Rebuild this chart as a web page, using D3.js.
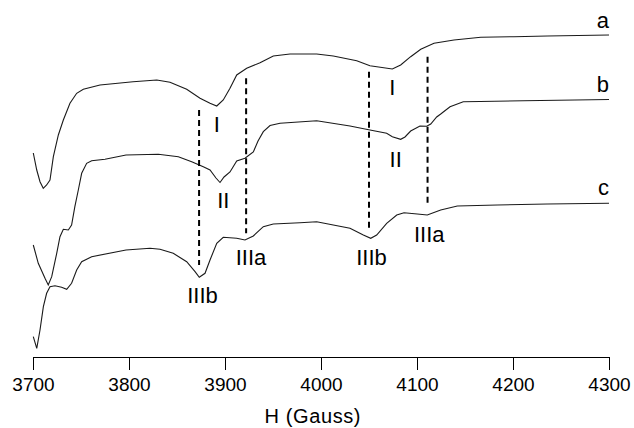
<!DOCTYPE html>
<html>
<head>
<meta charset="utf-8">
<script src="https://cdn.jsdelivr.net/npm/d3@7"></script>
<style>
    body { margin: 0; background: #fff; }
    #chart text { font-family: "Liberation Sans", Arial, sans-serif; fill: #000; }
</style>
</head>
<body>
<div id="chart"></div>
<script>
// field in Gauss, signal in arbitrary units (offset per spectrum)
const traceA = [
    [3700.3, 204], [3703.9, 187], [3707.3, 175.3], [3710.7, 168.7], [3714.2, 172], [3717.7, 177],
    [3721.2, 200.3], [3726.4, 222], [3731.6, 237], [3738.5, 253.7], [3745.5, 263.7], [3752.4, 267.7],
    [3769.8, 272], [3804.2, 275.3], [3828.9, 277], [3842.7, 274.7], [3860.1, 267.7], [3874, 258.7],
    [3884.4, 253.7], [3891.4, 251], [3898.2, 257], [3905.2, 268.7], [3912.2, 282], [3922.6, 288.7],
    [3936.5, 294.3], [3950.3, 301], [3967.7, 303], [3995.5, 303], [4012.8, 301], [4037.2, 296.3],
    [4051, 291.3], [4074.3, 288], [4083, 292], [4093.4, 300.3], [4103.9, 307.7], [4117.7, 313.7],
    [4138.5, 317], [4166.4, 319.7], [4201, 320.3], [4235.7, 321], [4300, 322]
];

const traceB = [
    [3700.3, 112], [3705.5, 93.7], [3712.5, 78.7], [3715.9, 72], [3719.5, 80.3], [3724.7, 103.7],
    [3728.1, 120.3], [3731.6, 127.7], [3736.8, 127], [3740.2, 132], [3743.6, 150.3], [3747.2, 167],
    [3750.7, 183.7], [3755.9, 193.7], [3761.1, 196.3], [3775, 197.7], [3796.9, 202], [3830.5, 202.7],
    [3851.4, 200.3], [3865.3, 195.3], [3877.4, 190.3], [3884.4, 187], [3890.6, 179], [3894.8, 174.5],
    [3899, 180], [3905.2, 185], [3912.2, 196], [3920.8, 198.7], [3929.5, 205], [3934.4, 216],
    [3939.9, 225.3], [3946.9, 231.5], [3957.3, 233.7], [3995.5, 236.3], [4030.2, 231], [4051, 227],
    [4068.4, 223.7], [4074.3, 220.3], [4083, 217.7], [4087.5, 220], [4093.4, 226], [4103.1, 231],
    [4110.1, 230.7], [4114.3, 233], [4120.5, 240], [4124.7, 243], [4134.4, 250.3], [4148.2, 255.3],
    [4165.6, 255.5], [4210.7, 256.3], [4300, 257.5]
];

const traceC = [
    [3700.3, 20.3], [3703.9, 8.7], [3707.3, 27], [3710.8, 50.3], [3714.2, 63.7], [3717.7, 70.3],
    [3722.9, 71.3], [3729.8, 69.7], [3735.1, 67.7], [3740.2, 73.7], [3745.5, 87], [3750.7, 95.3],
    [3761.1, 100.3], [3796.9, 107], [3821.9, 108.7], [3832.3, 107.7], [3846.1, 103.7], [3860.1, 95.3],
    [3868.8, 85.3], [3873.2, 79.7], [3879.2, 83.7], [3884.4, 97], [3891.4, 113.7], [3898.2, 119.7],
    [3912.2, 118.7], [3920.8, 117], [3929.5, 121], [3939.9, 130.3], [3950.3, 133], [3978.1, 134.3],
    [3995.5, 135.3], [4012.8, 132], [4030.2, 128.7], [4044.1, 122], [4051.8, 118.7], [4058, 122],
    [4068.4, 133.7], [4078.9, 142], [4086.5, 144.3], [4100.3, 143], [4110.7, 142], [4124.7, 147],
    [4142, 151], [4183.6, 152], [4235.7, 153], [4300, 153.7]
];

const traceNames = ["a", "b", "c"];
const traceNameY = [329, 265, 162];

// dashed markers: field, top, bottom
const markerField = [3873, 3922, 4050, 4111];
const markerTop = [247, 278.7, 285.3, 300.3];
const markerBottom = [92, 123.7, 127, 150.3];

const peakLabels = [
    { text: "I", field: 3891.4, y: 225.3 },
    { text: "I", field: 4074.3, y: 262 },
    { text: "II", field: 3898.2, y: 148.7 },
    { text: "II", field: 4077.8, y: 190 },
    { text: "IIIb", field: 3876.6, y: 53.7 },
    { text: "IIIa", field: 3927.1, y: 92 },
    { text: "IIIb", field: 4052.6, y: 92 },
    { text: "IIIa", field: 4112.8, y: 115.3 }
];

const xTicks = [3700, 3800, 3900, 4000, 4100, 4200, 4300];

const width = 634, height = 428;
const margin = { top: 17, right: 25, bottom: 71, left: 33 };

const svg = d3.select("#chart").append("svg")
    .attr("width", width)
    .attr("height", height);

const x = d3.scaleLinear().domain([3700, 4300]).range([margin.left, width - margin.right]);
const y = d3.scaleLinear().domain([0, 340]).range([height - margin.bottom, margin.top]);

const line = d3.line()
    .x(d => x(d[0]))
    .y(d => y(d[1]));

svg.selectAll("path.trace")
    .data([traceA, traceB, traceC])
    .enter().append("path")
    .attr("class", "trace")
    .attr("fill", "none")
    .attr("stroke", "#1a1a1a")
    .attr("stroke-width", 1.1)
    .attr("d", line);

svg.selectAll("line.marker")
    .data(markerField)
    .enter().append("line")
    .attr("class", "marker")
    .attr("x1", d => x(d))
    .attr("x2", d => x(d))
    .attr("y1", (d, i) => y(markerTop[i]))
    .attr("y2", (d, i) => y(markerBottom[i]))
    .attr("stroke", "#000")
    .attr("stroke-width", 2)
    .attr("stroke-dasharray", "6,4");

svg.selectAll("text.peak")
    .data(peakLabels)
    .enter().append("text")
    .attr("class", "peak")
    .attr("x", d => x(d.field))
    .attr("y", d => y(d.y))
    .attr("text-anchor", "middle")
    .style("font-size", "22px")
    .text(d => d.text);

svg.selectAll("text.name")
    .data(traceNames)
    .enter().append("text")
    .attr("class", "name")
    .attr("x", x(4300))
    .attr("y", (d, i) => y(traceNameY[i]))
    .attr("text-anchor", "end")
    .style("font-size", "22px")
    .text(d => d);

const xAxis = svg.append("g")
    .attr("transform", "translate(0," + y(0) + ")")
    .call(d3.axisBottom(x).tickValues(xTicks).tickFormat(d3.format("d")).tickSize(13).tickSizeOuter(0).tickPadding(8));

xAxis.select(".domain").attr("stroke", "#000").attr("stroke-width", 1);
xAxis.selectAll(".tick line").attr("stroke", "#000");
xAxis.selectAll(".tick text")
    .style("font-size", "19px")
    .attr("font-family", null);

svg.append("text")
    .attr("x", x(3991.5))
    .attr("y", 423)
    .attr("text-anchor", "middle")
    .style("font-size", "20px")
    .style("letter-spacing", "0.6px")
    .text("H (Gauss)");
</script>
</body>
</html>
